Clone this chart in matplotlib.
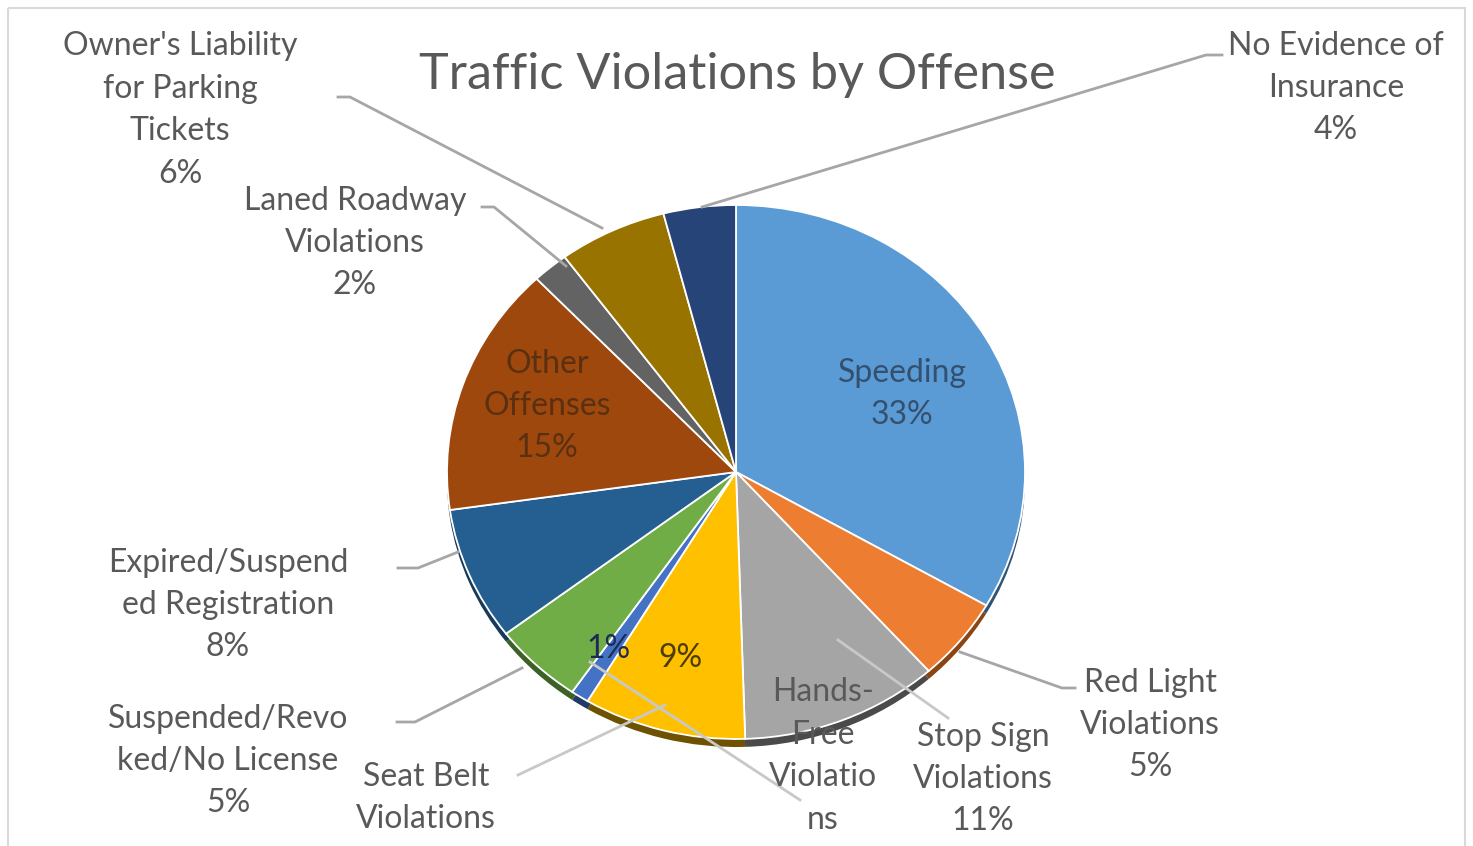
import matplotlib
matplotlib.use("Agg")
import matplotlib.pyplot as plt
from matplotlib.patches import Rectangle

W, H = 1473, 846

offenses = ["Speeding", "Red Light Violations", "Stop Sign Violations",
            "Hands-Free Violations", "Seat Belt Violations",
            "Suspended/Revoked/No License", "Expired/Suspended Registration",
            "Other Offenses", "Laned Roadway Violations",
            "Owner's Liability for Parking Tickets", "No Evidence of Insurance"]
shares = [33, 5, 11, 9, 1, 5, 8, 15, 2, 6, 4]
colors = ["#5B9BD5", "#ED7D31", "#A5A5A5", "#FFC000", "#4472C4", "#70AD47",
          "#255E91", "#9E480E", "#636363", "#997300", "#264478"]
side = ["#2f5478", "#8a4515", "#4a4a4a", "#6e5200", "#223a6a", "#3d6127",
        "#163a5a", "#5a2808", "#383838", "#574100", "#15264a"]

plt.rcParams['font.family'] = ['Lato', 'DejaVu Sans']
fig = plt.figure(figsize=(W / 100, H / 100), dpi=100)

# pie (slightly squashed like the excel 3d pie)
ax = fig.add_axes([447 / W, 1 - 747 / H, 578 / W, 542 / H])
# side wall / depth
ax.pie(shares, colors=side, startangle=90, counterclock=False, center=(0, -0.03),
       wedgeprops=dict(linewidth=0))
ax.pie(shares, colors=colors, startangle=90, counterclock=False,
       wedgeprops=dict(edgecolor="white", linewidth=1.3))
ax.set_aspect('auto')
ax.set_xlim(-1, 1)
ax.set_ylim(-1.03, 1)

# overlay in pixel coordinates for labels and leader lines
ov = fig.add_axes([0, 0, 1, 1], zorder=5)
ov.set_xlim(0, W)
ov.set_ylim(H, 0)
ov.axis('off')
ov.patch.set_alpha(0)
ov.add_patch(Rectangle((8, 8), 1457, 860, fill=False, edgecolor="#d9d9d9", linewidth=1.5))

ov.text(737, 75, "Traffic Violations by Offense", ha="center", va="center",
        fontsize=36.3, color="#595959")

fs = 23
ls = 1.52
gray = "#595959"
lines_dark = "#a6a6a6"
lines_light = "#c8c8c8"

labels = [
    (180, 110, "Owner's Liability\nfor Parking\nTickets\n6%", gray),
    (355, 243, "Laned Roadway\nViolations\n2%", gray),
    (1336, 88, "No Evidence of\nInsurance\n4%", gray),
    (547, 406, "Other\nOffenses\n15%", "#5a3010"),
    (902, 394, "Speeding\n33%", "#34506f"),
    (228, 605, "Expired/Suspend\ned Registration\n8%", gray),
    (228, 761, "Suspended/Revo\nked/No License\n5%", gray),
    (426, 798, "Seat Belt\nViolations", gray),
    (823, 756, "Hands-\nFree\nViolatio\nns", gray),
    (983, 779, "Stop Sign\nViolations\n11%", gray),
    (1150, 725, "Red Light\nViolations\n5%", gray),
    (608, 649, "1%", "#1c2b55"),
    (680, 658, "9%", "#4d3c00"),
]
for x, y, s, c in labels:
    ov.text(x, y, s, ha="center", va="center", fontsize=fs, color=c,
            linespacing=ls)

leaders = [
    ([338, 350, 602], [97, 97, 228], lines_dark),
    ([482, 494, 566], [207, 207, 266], lines_dark),
    ([1222, 1206, 702], [55, 55, 207], lines_dark),
    ([398, 418, 458], [568, 568, 552], lines_dark),
    ([397, 415, 522], [722, 722, 668], lines_dark),
    ([518, 665], [775, 705], lines_light),
    ([800, 590], [800, 662], lines_light),
    ([838, 948], [640, 718], lines_light),
    ([960, 1062, 1075], [652, 688, 688], lines_dark),
]
for xs, ys, c in leaders:
    ov.plot(xs, ys, color=c, linewidth=2)

fig.savefig("out.png", dpi=100, facecolor="white")
